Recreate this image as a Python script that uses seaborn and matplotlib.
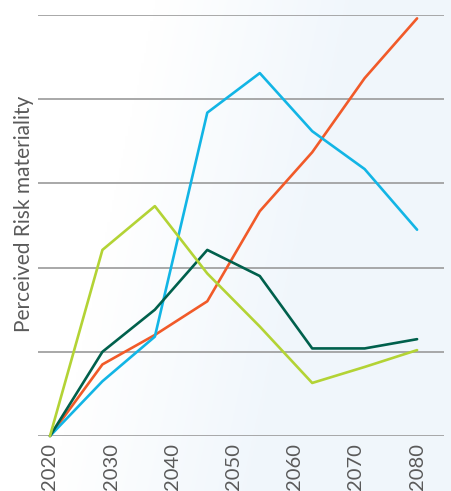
import numpy as np
import pandas as pd
import matplotlib
matplotlib.use("Agg")
import matplotlib.pyplot as plt
import seaborn as sns

years = [2020, 2028.57, 2037.14, 2045.71, 2054.29, 2062.86, 2071.43, 2080]
orange = [0, 0.85, 1.20, 1.60, 2.67, 3.37, 4.25, 4.96]
blue = [0, 0.65, 1.18, 3.84, 4.31, 3.62, 3.17, 2.45]
dark_green = [0, 1.00, 1.50, 2.21, 1.90, 1.04, 1.04, 1.15]
light_green = [0, 2.21, 2.73, 1.93, 1.30, 0.63, 0.82, 1.02]
series_names = ["Series 1", "Series 2", "Series 3", "Series 4"]
palette = ["#F15A29", "#12B5E5", "#00604C", "#B3D335"]
tick_years = [2020, 2030, 2040, 2050, 2060, 2070, 2080]

rows = []
for name, vals in zip(series_names, [orange, blue, dark_green, light_green]):
    for x, v in zip(years, vals):
        rows.append({"year": x, "value": v, "series": name})
df = pd.DataFrame(rows)

sns.set_theme(style="white")
plt.rcParams["font.family"] = ["Lato", "DejaVu Sans"]

fig = plt.figure(figsize=(4.52, 4.91), dpi=100)

# soft background gradient
bg = fig.add_axes([0, 0, 1, 1], zorder=-10)
gx, gy = np.meshgrid(np.linspace(0, 1, 200), np.linspace(0, 1, 200))
t = np.clip((gx * 1.3 + gy * 0.3 - 0.45) * 1.8, 0, 1)
c0 = np.array([1.0, 1.0, 1.0])
c1 = np.array([0.945, 0.968, 0.988])
img = c0[None, None, :] * (1 - t[..., None]) + c1[None, None, :] * t[..., None]
bg.imshow(img, extent=[0, 1, 0, 1], aspect="auto", origin="upper")
bg.axis("off")

ax = fig.add_axes([38 / 452, 1 - 436 / 491, (444 - 38) / 452, (436 - 15) / 491])
ax.patch.set_alpha(0)

sns.lineplot(data=df, x="year", y="value", hue="series", palette=palette,
             hue_order=series_names, linewidth=1.9, legend=False, ax=ax,
             clip_on=False, zorder=3)

ax.set_xlim(2018.04, 2084.4)
ax.set_ylim(0, 5)
ax.set_yticks([0, 1, 2, 3, 4, 5])
ax.set_yticklabels([])
ax.yaxis.grid(True, color="#9a9a9a", linewidth=1.2)
ax.set_axisbelow(True)
ax.set_xticks(tick_years)
ax.set_xticklabels([str(y) for y in tick_years], rotation=90, fontsize=14.5,
                   color="#5a5a5a", va="top")
ax.tick_params(axis="both", length=0, pad=5)
for s in ["top", "right", "left", "bottom"]:
    ax.spines[s].set_visible(False)
ax.set_xlabel("")
ax.set_ylabel("Perceived Risk materiality", fontsize=15, color="#5a5a5a")
ax.yaxis.set_label_coords(-14 / 406, (436 - 214) / 421)
ax.yaxis.label.set_va("center")

fig.savefig("out.png", dpi=100)
